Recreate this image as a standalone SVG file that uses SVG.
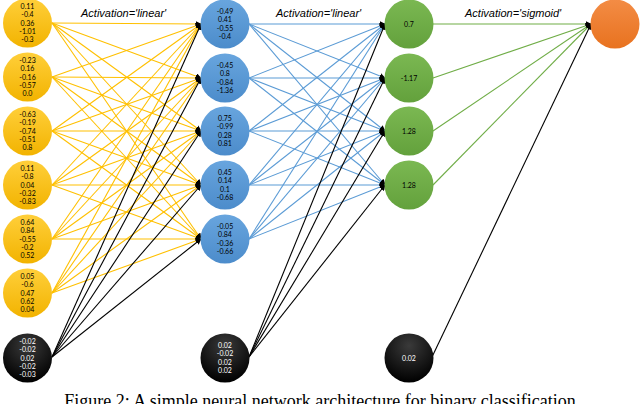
<svg xmlns="http://www.w3.org/2000/svg" width="640" height="404" viewBox="0 0 640 404">
<defs>
<linearGradient id="gy" x1="0" y1="0" x2="0" y2="1"><stop offset="0" stop-color="#FFCF3A"/><stop offset="1" stop-color="#F2B300"/></linearGradient>
<linearGradient id="gb" x1="0" y1="0" x2="0" y2="1"><stop offset="0" stop-color="#68A5DE"/><stop offset="1" stop-color="#4C8CCB"/></linearGradient>
<linearGradient id="gg" x1="0" y1="0" x2="0" y2="1"><stop offset="0" stop-color="#7BB852"/><stop offset="1" stop-color="#63A13C"/></linearGradient>
<linearGradient id="go" x1="0" y1="0" x2="0" y2="1"><stop offset="0" stop-color="#F38C45"/><stop offset="1" stop-color="#E8721F"/></linearGradient>
<radialGradient id="gk" cx="0.5" cy="0.25" r="0.75"><stop offset="0" stop-color="#3a3a3a"/><stop offset="1" stop-color="#000"/></radialGradient>
<marker id="ah" viewBox="0 0 10 10" refX="9" refY="5" markerWidth="6" markerHeight="6" markerUnits="userSpaceOnUse" orient="auto"><path d="M0,0 L10,5 L0,10 z" fill="#000"/></marker>
</defs>
<style>
.ey{stroke:#FFC000;stroke-width:1.1;fill:none}
.eb{stroke:#5B9BD5;stroke-width:1.1;fill:none}
.eg{stroke:#70AD47;stroke-width:1.1;fill:none}
.ek{stroke:#000;stroke-width:1.1;fill:none}
.ea{marker-end:url(#ah)}
.ny{fill:url(#gy)}
.nb{fill:url(#gb)}
.ng{fill:url(#gg)}
.no{fill:url(#go)}
.nk{fill:url(#gk)}
.t{font-family:Lato,"Open Sans","Liberation Sans",sans-serif;font-size:7px;text-anchor:middle;fill:#000}
.tw{fill:#fff}
.lab{font-family:"Liberation Sans",Arial,sans-serif;font-size:11px;font-style:italic;fill:#000}
.cap{font-family:"Liberation Serif","Times New Roman",serif;font-size:18px;text-anchor:middle;fill:#000}
</style>
<rect width="640" height="404" fill="#fff"/>
<g id="connectors">
<line class="ey ea" x1="52" y1="23" x2="201" y2="24"/>
<line class="ey ea" x1="52" y1="23" x2="201" y2="78"/>
<line class="ey ea" x1="52" y1="23" x2="201" y2="131"/>
<line class="ey ea" x1="52" y1="23" x2="201" y2="185"/>
<line class="ey ea" x1="52" y1="23" x2="201" y2="239"/>
<line class="ey ea" x1="52" y1="77" x2="201" y2="24"/>
<line class="ey ea" x1="52" y1="77" x2="201" y2="78"/>
<line class="ey ea" x1="52" y1="77" x2="201" y2="131"/>
<line class="ey ea" x1="52" y1="77" x2="201" y2="185"/>
<line class="ey ea" x1="52" y1="77" x2="201" y2="239"/>
<line class="ey ea" x1="52" y1="131" x2="201" y2="24"/>
<line class="ey ea" x1="52" y1="131" x2="201" y2="78"/>
<line class="ey ea" x1="52" y1="131" x2="201" y2="131"/>
<line class="ey ea" x1="52" y1="131" x2="201" y2="185"/>
<line class="ey ea" x1="52" y1="131" x2="201" y2="239"/>
<line class="ey ea" x1="52" y1="185" x2="201" y2="24"/>
<line class="ey ea" x1="52" y1="185" x2="201" y2="78"/>
<line class="ey ea" x1="52" y1="185" x2="201" y2="131"/>
<line class="ey ea" x1="52" y1="185" x2="201" y2="185"/>
<line class="ey ea" x1="52" y1="185" x2="201" y2="239"/>
<line class="ey ea" x1="52" y1="239" x2="201" y2="24"/>
<line class="ey ea" x1="52" y1="239" x2="201" y2="78"/>
<line class="ey ea" x1="52" y1="239" x2="201" y2="131"/>
<line class="ey ea" x1="52" y1="239" x2="201" y2="185"/>
<line class="ey ea" x1="52" y1="239" x2="201" y2="239"/>
<line class="ey ea" x1="52" y1="293" x2="201" y2="24"/>
<line class="ey ea" x1="52" y1="293" x2="201" y2="78"/>
<line class="ey ea" x1="52" y1="293" x2="201" y2="131"/>
<line class="ey ea" x1="52" y1="293" x2="201" y2="185"/>
<line class="ey ea" x1="52" y1="293" x2="201" y2="239"/>
<line class="ek ea" x1="52" y1="357" x2="201" y2="24"/>
<line class="ek ea" x1="52" y1="357" x2="201" y2="78"/>
<line class="ek ea" x1="52" y1="357" x2="201" y2="131"/>
<line class="ek ea" x1="52" y1="357" x2="201" y2="185"/>
<line class="ek ea" x1="52" y1="357" x2="201" y2="239"/>
<line class="eb ea" x1="249" y1="24" x2="385" y2="24"/>
<line class="eb ea" x1="249" y1="24" x2="385" y2="78"/>
<line class="eb ea" x1="249" y1="24" x2="385" y2="131"/>
<line class="eb ea" x1="249" y1="24" x2="385" y2="185"/>
<line class="eb ea" x1="249" y1="78" x2="385" y2="24"/>
<line class="eb ea" x1="249" y1="78" x2="385" y2="78"/>
<line class="eb ea" x1="249" y1="78" x2="385" y2="131"/>
<line class="eb ea" x1="249" y1="78" x2="385" y2="185"/>
<line class="eb ea" x1="249" y1="131" x2="385" y2="24"/>
<line class="eb ea" x1="249" y1="131" x2="385" y2="78"/>
<line class="eb ea" x1="249" y1="131" x2="385" y2="131"/>
<line class="eb ea" x1="249" y1="131" x2="385" y2="185"/>
<line class="eb ea" x1="249" y1="185" x2="385" y2="24"/>
<line class="eb ea" x1="249" y1="185" x2="385" y2="78"/>
<line class="eb ea" x1="249" y1="185" x2="385" y2="131"/>
<line class="eb ea" x1="249" y1="185" x2="385" y2="185"/>
<line class="eb ea" x1="249" y1="239" x2="385" y2="24"/>
<line class="eb ea" x1="249" y1="239" x2="385" y2="78"/>
<line class="eb ea" x1="249" y1="239" x2="385" y2="131"/>
<line class="eb ea" x1="249" y1="239" x2="385" y2="185"/>
<line class="ek ea" x1="249" y1="357" x2="385" y2="24"/>
<line class="ek ea" x1="249" y1="357" x2="385" y2="78"/>
<line class="ek ea" x1="249" y1="357" x2="385" y2="131"/>
<line class="ek ea" x1="249" y1="357" x2="385" y2="185"/>
<line class="eg ea" x1="433" y1="24" x2="591" y2="24"/>
<line class="eg ea" x1="433" y1="78" x2="591" y2="24"/>
<line class="eg ea" x1="433" y1="131" x2="591" y2="24"/>
<line class="eg ea" x1="433" y1="185" x2="591" y2="24"/>
<line class="ek ea" x1="432" y1="357" x2="591" y2="24"/>
</g>
<g id="labels">
<text class="lab" x="81" y="17">Activation='linear'</text>
<text class="lab" x="276" y="17">Activation='linear'</text>
<text class="lab" x="465" y="17">Activation='sigmoid'</text>
</g>
<g id="in1"><circle class="ny" cx="27.5" cy="23" r="24.5"/><text class="t"><tspan x="27.5" y="9">0.11</tspan><tspan x="27.5" y="17.3">-0.4</tspan><tspan x="27.5" y="25.6">0.36</tspan><tspan x="27.5" y="33.9">-1.01</tspan><tspan x="27.5" y="42.2">-0.3</tspan></text></g>
<g id="in2"><circle class="ny" cx="27.5" cy="77" r="24.5"/><text class="t"><tspan x="27.5" y="63">-0.23</tspan><tspan x="27.5" y="71.3">0.16</tspan><tspan x="27.5" y="79.6">-0.16</tspan><tspan x="27.5" y="87.9">-0.57</tspan><tspan x="27.5" y="96.2">0.0</tspan></text></g>
<g id="in3"><circle class="ny" cx="27.5" cy="131" r="24.5"/><text class="t"><tspan x="27.5" y="117">-0.63</tspan><tspan x="27.5" y="125.3">-0.19</tspan><tspan x="27.5" y="133.6">-0.74</tspan><tspan x="27.5" y="141.9">-0.51</tspan><tspan x="27.5" y="150.2">0.8</tspan></text></g>
<g id="in4"><circle class="ny" cx="27.5" cy="185" r="24.5"/><text class="t"><tspan x="27.5" y="171">0.11</tspan><tspan x="27.5" y="179.3">-0.8</tspan><tspan x="27.5" y="187.6">0.04</tspan><tspan x="27.5" y="195.9">-0.32</tspan><tspan x="27.5" y="204.2">-0.83</tspan></text></g>
<g id="in5"><circle class="ny" cx="27.5" cy="239" r="24.5"/><text class="t"><tspan x="27.5" y="225">0.64</tspan><tspan x="27.5" y="233.3">0.84</tspan><tspan x="27.5" y="241.6">-0.55</tspan><tspan x="27.5" y="249.9">-0.2</tspan><tspan x="27.5" y="258.2">0.52</tspan></text></g>
<g id="in6"><circle class="ny" cx="27.5" cy="293" r="24.5"/><text class="t"><tspan x="27.5" y="279">0.05</tspan><tspan x="27.5" y="287.3">-0.6</tspan><tspan x="27.5" y="295.6">0.47</tspan><tspan x="27.5" y="303.9">0.62</tspan><tspan x="27.5" y="312.2">0.04</tspan></text></g>
<g id="bias1"><circle class="nk" cx="27.5" cy="358" r="24.5"/><text class="t tw"><tspan x="27.5" y="344">-0.02</tspan><tspan x="27.5" y="352.3">-0.02</tspan><tspan x="27.5" y="360.6">0.02</tspan><tspan x="27.5" y="368.9">-0.02</tspan><tspan x="27.5" y="377.2">-0.03</tspan></text></g>
<g id="h1"><circle class="nb" cx="225" cy="24" r="24.5"/><text class="t"><tspan x="225" y="14">-0.49</tspan><tspan x="225" y="22.3">0.41</tspan><tspan x="225" y="30.6">-0.55</tspan><tspan x="225" y="38.9">-0.4</tspan></text></g>
<g id="h2"><circle class="nb" cx="225" cy="78" r="24.5"/><text class="t"><tspan x="225" y="68">-0.45</tspan><tspan x="225" y="76.3">0.8</tspan><tspan x="225" y="84.6">-0.84</tspan><tspan x="225" y="92.9">-1.36</tspan></text></g>
<g id="h3"><circle class="nb" cx="225" cy="131" r="24.5"/><text class="t"><tspan x="225" y="121">0.75</tspan><tspan x="225" y="129.3">-0.99</tspan><tspan x="225" y="137.6">0.28</tspan><tspan x="225" y="145.9">0.81</tspan></text></g>
<g id="h4"><circle class="nb" cx="225" cy="185" r="24.5"/><text class="t"><tspan x="225" y="175">0.45</tspan><tspan x="225" y="183.3">0.14</tspan><tspan x="225" y="191.6">0.1</tspan><tspan x="225" y="199.9">-0.68</tspan></text></g>
<g id="h5"><circle class="nb" cx="225" cy="239" r="24.5"/><text class="t"><tspan x="225" y="229">-0.05</tspan><tspan x="225" y="237.3">0.84</tspan><tspan x="225" y="245.6">-0.36</tspan><tspan x="225" y="253.9">-0.66</tspan></text></g>
<g id="bias2"><circle class="nk" cx="225" cy="358" r="24.5"/><text class="t tw"><tspan x="225" y="348">0.02</tspan><tspan x="225" y="356.3">-0.02</tspan><tspan x="225" y="364.6">0.02</tspan><tspan x="225" y="372.9">0.02</tspan></text></g>
<g id="g1"><circle class="ng" cx="409" cy="24" r="24.5"/><text class="t" x="409" y="26.5">0.7</text></g>
<g id="g2"><circle class="ng" cx="409" cy="78" r="24.5"/><text class="t" x="409" y="80.5">-1.17</text></g>
<g id="g3"><circle class="ng" cx="409" cy="131" r="24.5"/><text class="t" x="409" y="133.5">1.28</text></g>
<g id="g4"><circle class="ng" cx="409" cy="185" r="24.5"/><text class="t" x="409" y="187.5">1.28</text></g>
<g id="bias3"><circle class="nk" cx="409" cy="358" r="24.5"/><text class="t tw" x="409" y="360.5">0.02</text></g>
<g id="out"><circle class="no" cx="615" cy="24" r="24.5"/></g>
<text class="cap" x="320" y="407">Figure 2: A simple neural network architecture for binary classification</text>
</svg>
